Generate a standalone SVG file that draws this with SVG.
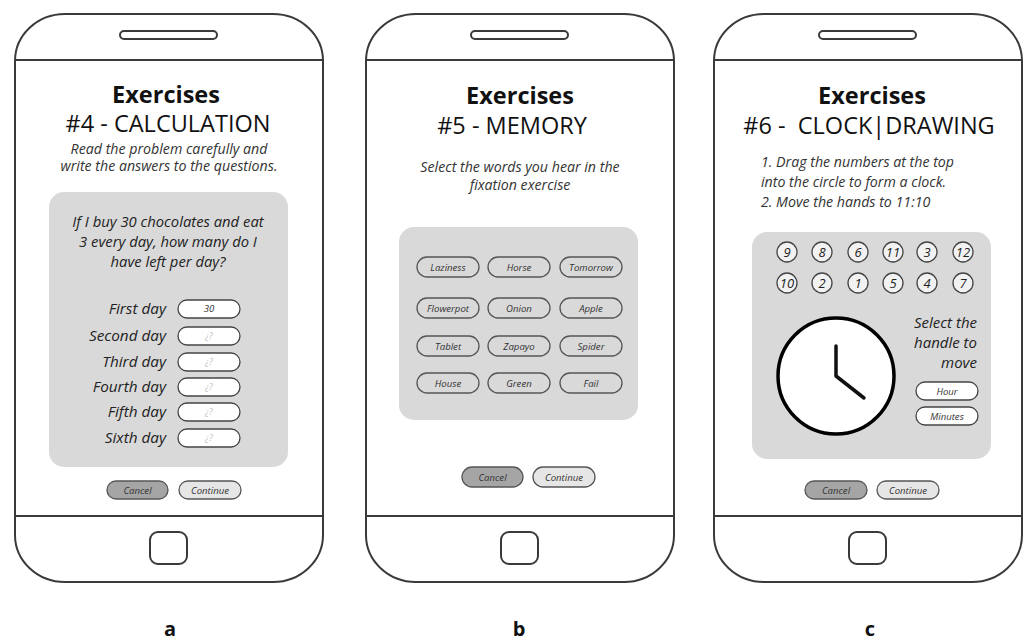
<svg xmlns="http://www.w3.org/2000/svg" width="1029" height="643" viewBox="0 0 1029 643">
<style>
.shell{fill:#fff;stroke:#3a3a3a;stroke-width:2}
.line{stroke:#3a3a3a;stroke-width:2}
.spk{fill:#fff;stroke:#3a3a3a;stroke-width:2}
.home{fill:#fff;stroke:#3a3a3a;stroke-width:2}
.panel{fill:#d9d9d9}
.t1{font-family:"Open Sans","Noto Sans",sans-serif;font-weight:700;font-size:23.5px;fill:#111;text-anchor:middle}
.t2{font-family:"Open Sans","Noto Sans",sans-serif;font-size:23.5px;fill:#111;text-anchor:middle}
.ins{font-family:"Open Sans","Noto Sans",sans-serif;font-style:italic;font-size:14.2px;fill:#333}
.q{font-family:"Open Sans","Noto Sans",sans-serif;font-style:italic;font-size:14.8px;fill:#222;text-anchor:middle}
.lbl{font-family:"Open Sans","Noto Sans",sans-serif;font-style:italic;font-size:15.3px;fill:#222;text-anchor:end}
.sel{font-family:"Open Sans","Noto Sans",sans-serif;font-style:italic;font-size:15px;fill:#222;text-anchor:end}
.inp{fill:#fff;stroke:#444;stroke-width:1.3}
.word{fill:none;stroke:#555;stroke-width:1.3}
.sm{font-family:"Open Sans","Noto Sans",sans-serif;font-style:italic;font-size:9.6px;fill:#333;text-anchor:middle}
.ph{font-family:"Open Sans","Noto Sans",sans-serif;font-style:italic;font-size:8.5px;fill:#bbb;text-anchor:middle}
.cancel{fill:#a5a5a5;stroke:#555;stroke-width:1.3}
.cont{fill:#e6e6e6;stroke:#555;stroke-width:1.3}
.btn{font-family:"Open Sans","Noto Sans",sans-serif;font-style:italic;font-size:9.6px;fill:#333;text-anchor:middle}
.num{fill:#f2f2f2;stroke:#444;stroke-width:1.3}
.nt{font-family:"Open Sans","Noto Sans",sans-serif;font-style:italic;font-size:13px;fill:#222;text-anchor:middle}
.cap{font-family:"Open Sans","Noto Sans",sans-serif;font-weight:700;font-size:20px;fill:#111;text-anchor:middle}
</style>
<defs>
<g id="phone">
<rect class="shell" x="0" y="14" width="308" height="568" rx="50" ry="47"/>
<line class="line" x1="0" y1="60" x2="308" y2="60"/>
<line class="line" x1="0" y1="516" x2="308" y2="516"/>
<rect class="spk" x="105" y="31" width="97" height="8" rx="4"/>
<rect class="home" x="135" y="532" width="37" height="32" rx="8"/>
</g>
</defs>

<g id="phone-a">
<use href="#phone" x="15" y="0"/>
<text class="t1" x="166" y="103">Exercises</text>
<text class="t2" x="168" y="132">#4 - CALCULATION</text>
<text class="ins" x="169" y="154" text-anchor="middle">Read the problem carefully and</text>
<text class="ins" x="169" y="171" text-anchor="middle">write the answers to the questions.</text>
<rect class="panel" x="49" y="192" width="239" height="275" rx="15"/>
<text class="q" x="168" y="227">If I buy 30 chocolates and eat</text>
<text class="q" x="168" y="247">3 every day, how many do I</text>
<text class="q" x="168" y="267">have left per day?</text>
<text class="lbl" x="166" y="314">First day</text>
<text class="lbl" x="166" y="341">Second day</text>
<text class="lbl" x="166" y="367">Third day</text>
<text class="lbl" x="166" y="392">Fourth day</text>
<text class="lbl" x="166" y="417">Fifth day</text>
<text class="lbl" x="166" y="443">Sixth day</text>
<rect class="inp" x="178" y="300" width="62" height="18" rx="9"/>
<rect class="inp" x="178" y="327" width="62" height="18" rx="9"/>
<rect class="inp" x="178" y="353" width="62" height="18" rx="9"/>
<rect class="inp" x="178" y="378" width="62" height="18" rx="9"/>
<rect class="inp" x="178" y="403" width="62" height="18" rx="9"/>
<rect class="inp" x="178" y="429" width="62" height="18" rx="9"/>
<text class="sm" x="209" y="312">30</text>
<text class="ph" x="209" y="339">¿?</text>
<text class="ph" x="209" y="365">¿?</text>
<text class="ph" x="209" y="390">¿?</text>
<text class="ph" x="209" y="415">¿?</text>
<text class="ph" x="209" y="441">¿?</text>
<rect class="cancel" x="107" y="481" width="61" height="18" rx="9"/>
<text class="btn" x="137.5" y="493.5">Cancel</text>
<rect class="cont" x="179" y="481" width="62" height="18" rx="9"/>
<text class="btn" x="210" y="493.5">Continue</text>
<text class="cap" x="170" y="636">a</text>
</g>

<g id="phone-b">
<use href="#phone" x="366" y="0"/>
<text class="t1" x="520" y="104">Exercises</text>
<text class="t2" x="512" y="134">#5 - MEMORY</text>
<text class="ins" x="520" y="172" text-anchor="middle">Select the words you hear in the</text>
<text class="ins" x="520" y="190" text-anchor="middle">fixation exercise</text>
<rect class="panel" x="399" y="227" width="239" height="193" rx="15"/>
<g>
<rect class="word" x="417" y="257" width="62" height="20" rx="10"/>
<rect class="word" x="488" y="257" width="62" height="20" rx="10"/>
<rect class="word" x="560" y="257" width="62" height="20" rx="10"/>
<rect class="word" x="417" y="298" width="62" height="20" rx="10"/>
<rect class="word" x="488" y="298" width="62" height="20" rx="10"/>
<rect class="word" x="560" y="298" width="62" height="20" rx="10"/>
<rect class="word" x="417" y="336" width="62" height="20" rx="10"/>
<rect class="word" x="488" y="336" width="62" height="20" rx="10"/>
<rect class="word" x="560" y="336" width="62" height="20" rx="10"/>
<rect class="word" x="417" y="373" width="62" height="20" rx="10"/>
<rect class="word" x="488" y="373" width="62" height="20" rx="10"/>
<rect class="word" x="560" y="373" width="62" height="20" rx="10"/>
<text class="sm" x="448" y="270.5">Laziness</text>
<text class="sm" x="519" y="270.5">Horse</text>
<text class="sm" x="591" y="270.5">Tomorrow</text>
<text class="sm" x="448" y="311.5">Flowerpot</text>
<text class="sm" x="519" y="311.5">Onion</text>
<text class="sm" x="591" y="311.5">Apple</text>
<text class="sm" x="448" y="349.5">Tablet</text>
<text class="sm" x="519" y="349.5">Zapayo</text>
<text class="sm" x="591" y="349.5">Spider</text>
<text class="sm" x="448" y="386.5">House</text>
<text class="sm" x="519" y="386.5">Green</text>
<text class="sm" x="591" y="386.5">Fail</text>
</g>
<rect class="cancel" x="462" y="467" width="61" height="20" rx="10"/>
<text class="btn" x="492.5" y="480.5">Cancel</text>
<rect class="cont" x="533" y="467" width="62" height="20" rx="10"/>
<text class="btn" x="564" y="480.5">Continue</text>
<text class="cap" x="519" y="636">b</text>
</g>

<g id="phone-c">
<use href="#phone" x="714" y="0"/>
<text class="t1" x="872" y="104">Exercises</text>
<text class="t2" x="869" y="134" xml:space="preserve">#6 -  CLOCK|DRAWING</text>
<text class="ins" x="761" y="167">1. Drag the numbers at the top</text>
<text class="ins" x="761" y="187">into the circle to form a clock.</text>
<text class="ins" x="761" y="207">2. Move the hands to 11:10</text>
<rect class="panel" x="752" y="232" width="239" height="227" rx="15"/>
<g>
<circle class="num" cx="787" cy="252" r="10"/>
<circle class="num" cx="822" cy="252" r="10"/>
<circle class="num" cx="858" cy="252" r="10"/>
<circle class="num" cx="893" cy="252" r="10"/>
<circle class="num" cx="927" cy="252" r="10"/>
<circle class="num" cx="963" cy="252" r="10"/>
<circle class="num" cx="787" cy="283" r="10"/>
<circle class="num" cx="822" cy="283" r="10"/>
<circle class="num" cx="858" cy="283" r="10"/>
<circle class="num" cx="893" cy="283" r="10"/>
<circle class="num" cx="927" cy="283" r="10"/>
<circle class="num" cx="963" cy="283" r="10"/>
<text class="nt" x="787" y="256.5">9</text>
<text class="nt" x="822" y="256.5">8</text>
<text class="nt" x="858" y="256.5">6</text>
<text class="nt" x="893" y="256.5">11</text>
<text class="nt" x="927" y="256.5">3</text>
<text class="nt" x="963" y="256.5">12</text>
<text class="nt" x="787" y="287.5">10</text>
<text class="nt" x="822" y="287.5">2</text>
<text class="nt" x="858" y="287.5">1</text>
<text class="nt" x="893" y="287.5">5</text>
<text class="nt" x="927" y="287.5">4</text>
<text class="nt" x="963" y="287.5">7</text>
</g>
<circle cx="836" cy="376" r="58" fill="#fff" stroke="#000" stroke-width="3.5"/>
<path d="M836,346 L836,376 L864,398" fill="none" stroke="#111" stroke-width="3.5" stroke-linecap="round" stroke-linejoin="round"/>
<text class="sel" x="977" y="328">Select the</text>
<text class="sel" x="977" y="348">handle to</text>
<text class="sel" x="977" y="368">move</text>
<rect class="inp" x="916" y="382" width="62" height="18" rx="9"/>
<text class="sm" x="947" y="394.5">Hour</text>
<rect class="inp" x="916" y="407" width="62" height="18" rx="9"/>
<text class="sm" x="947" y="419.5">Minutes</text>
<rect class="cancel" x="805" y="481" width="62" height="18" rx="9"/>
<text class="btn" x="836" y="493.5">Cancel</text>
<rect class="cont" x="877" y="481" width="62" height="18" rx="9"/>
<text class="btn" x="908" y="493.5">Continue</text>
<text class="cap" x="870" y="636">c</text>
</g>
</svg>
